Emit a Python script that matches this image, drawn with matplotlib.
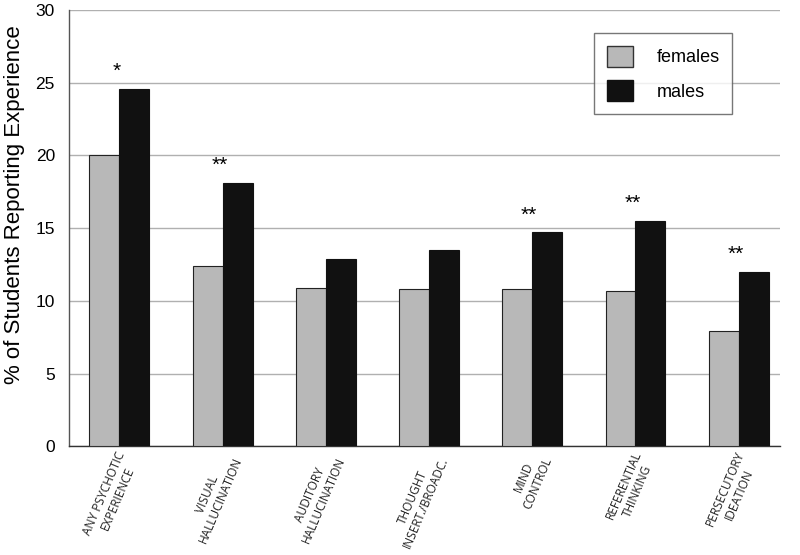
import matplotlib
import numpy as np
import matplotlib.pyplot as plt
from matplotlib.patches import Patch

matplotlib.use("Agg")

categories = [
    "ANY PSYCHOTIC\nEXPERIENCE",
    "VISUAL\nHALLUCINATION",
    "AUDITORY\nHALLUCINATION",
    "THOUGHT\nINSERT./BROADC.",
    "MIND\nCONTROL",
    "REFERENTIAL\nTHINKING",
    "PERSECUTORY\nIDEATION",
]
females = [20.0, 12.4, 10.9, 10.8, 10.8, 10.7, 7.9]
males = [24.6, 18.1, 12.9, 13.5, 14.7, 15.5, 12.0]
stars = ["*", "**", "", "", "**", "**", "**"]

plt.rcParams["font.family"] = ["Liberation Sans", "DejaVu Sans"]

fig = plt.figure(figsize=(8, 5.55), dpi=100)
ax = fig.add_axes([0.086, 0.196, 0.889, 0.786])

x = np.arange(len(categories))
w = 0.29

ax.bar(x - w / 2, females, w, color="#b8b8b8", edgecolor="#222222", linewidth=0.8, zorder=3)
ax.bar(x + w / 2, males, w, color="#111111", edgecolor="#111111", linewidth=0.8, zorder=3)

for i, s in enumerate(stars):
    if s:
        ax.text(x[i] - 0.03, males[i] + 0.55, s, ha="center", va="bottom", fontsize=15, zorder=4)

ax.set_xlim(-0.49, 6.4)
ax.set_ylim(0, 30)
ax.set_yticks(range(0, 31, 5))
ax.yaxis.grid(True, color="#b0b0b0", linewidth=1.0, zorder=0)
ax.set_axisbelow(True)
ax.tick_params(axis="y", length=0, pad=10, labelsize=12.5)
ax.tick_params(axis="x", length=0)
ax.set_xticks(x)
ax.set_xticklabels([])

for i, lab in enumerate(categories):
    ax.text(x[i] + 0.09, -0.6, lab, rotation=67, ha="right", va="center",
            rotation_mode="anchor", multialignment="center", linespacing=1.15,
            fontsize=8.6, family=["Open Sans", "DejaVu Sans"], color="#222222")

for side in ["top", "right"]:
    ax.spines[side].set_visible(False)
ax.spines["left"].set_color("#555555")
ax.spines["bottom"].set_color("#333333")
ax.spines["left"].set_linewidth(1.0)
ax.spines["bottom"].set_linewidth(1.0)

ax.set_ylabel("% of Students Reporting Experience", fontsize=16)
ax.yaxis.set_label_coords(-0.062, 0.553)

handles = [
    Patch(facecolor="#b8b8b8", edgecolor="#333333", label="females"),
    Patch(facecolor="#111111", edgecolor="#111111", label="males"),
]
leg = ax.legend(handles=handles, loc="upper right", bbox_to_anchor=(0.933, 0.947),
                fontsize=13, frameon=True, fancybox=False, edgecolor="#555555",
                handlelength=1.45, handleheight=1.45, handletextpad=1.3,
                borderpad=0.7, labelspacing=0.7, borderaxespad=0)
leg.get_frame().set_linewidth(1.0)

fig.savefig("out.png", dpi=100)
